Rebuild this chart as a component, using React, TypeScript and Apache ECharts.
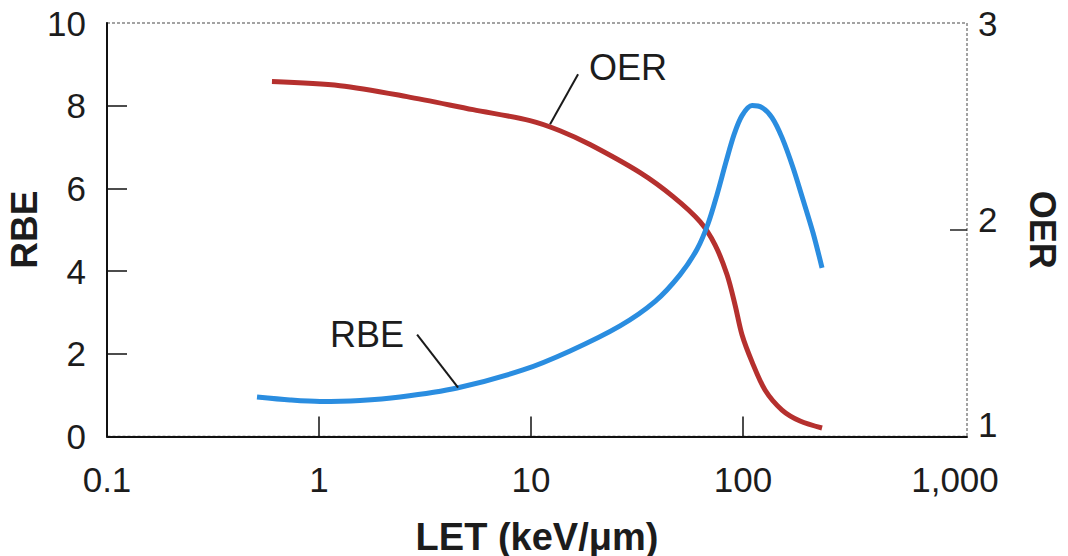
import React, { useEffect, useRef } from "react";
import * as echarts from "echarts";

// Oxygen enhancement ratio versus linear energy transfer (right axis)
const OER_LET = [0.6, 1.256, 2.6, 5.33, 9.89, 13.7, 18.98, 32.7, 46.8, 62.7, 73.8, 84.1, 91.7, 98.9, 110.3, 127, 152.8, 185.8, 235.9];
const OER_VALUES = [2.717, 2.697, 2.644, 2.581, 2.528, 2.479, 2.412, 2.276, 2.16, 2.039, 1.927, 1.782, 1.637, 1.492, 1.361, 1.225, 1.128, 1.075, 1.041];

// Relative biological effectiveness versus linear energy transfer (left axis)
const RBE_LET = [0.51, 0.73, 1.011, 1.561, 2.41, 4.48, 9.17, 15.28, 26.3, 38.5, 50.4, 60.7, 68.4, 75.4, 83.2, 90.7, 98.9, 110.3, 122.9, 137, 152.8, 172.2, 191.9, 213.9, 235.9];
const RBE_VALUES = [0.956, 0.884, 0.847, 0.872, 0.956, 1.174, 1.61, 2.07, 2.676, 3.269, 3.91, 4.528, 5.145, 5.847, 6.646, 7.3, 7.76, 8.002, 7.954, 7.712, 7.228, 6.501, 5.726, 4.927, 4.08];

const LET_LABELS = [0.1, 1, 10, 100, 1000];
const LET_TICKS = [1, 10, 100];
const RBE_TICKS = [2, 4, 6, 8];
const OER_TICKS = [2];

// Annotation anchors on the curves: [LET, value]
const OER_ANCHOR = [12.3, 2.51];
const RBE_ANCHOR = [4.53, 1.18];

const FONT = "'Liberation Sans', Arial, Helvetica, sans-serif";
const INK = "#1c1c1c";
const RED = "#b5302e";
const BLUE = "#2a8de0";

const fmtLet = (v: number) => {
  if (Math.abs(v - 1000) < 1e-6) return "1,000";
  if (Math.abs(v - 0.1) < 1e-9) return "0.1";
  return String(Math.round(v));
};

// Right-hand OER labels sit a little above their tick positions
const fmtOer = (v: number) => {
  if (v === 1) return "{lo|1}";
  if (v === 2) return "{mid|2}";
  return "{top|" + v + "}";
};

export default function App() {
  const ref = useRef<HTMLDivElement>(null);

  useEffect(() => {
    if (!ref.current) return;
    const chart = echarts.init(ref.current, undefined, { renderer: "svg" });

    const labelText = { fontFamily: FONT, fontSize: 35, color: INK };

    const option: any = {
      animation: false,
      backgroundColor: "#ffffff",
      grid: {
        left: 107,
        right: 101,
        top: 23,
        bottom: 119.5,
        containLabel: false,
        outerBoundsMode: "none",
        show: true,
        backgroundColor: "transparent",
        borderColor: "#a3a3a3",
        borderWidth: 2,
        borderType: [3, 2],
      },
      xAxis: {
        type: "log",
        logBase: 10,
        min: 0.1,
        max: 1139,
        name: "LET (keV/\u03bcm)",
        nameLocation: "middle",
        nameGap: 84,
        nameMoveOverlap: false,
        nameTextStyle: { fontFamily: FONT, fontSize: 38, lineHeight: 32, fontWeight: "bold", color: INK },
        axisLine: { show: true, lineStyle: { color: "#111", width: 2 } },
        axisTick: {
          show: true,
          inside: true,
          length: 20,
          customValues: LET_TICKS,
          lineStyle: { color: "#111", width: 1.5 },
        },
        axisLabel: {
          show: true,
          customValues: LET_LABELS,
          margin: 25,
          ...labelText,
          formatter: (v: number) => fmtLet(v),
        },
        splitLine: { show: false },
        minorTick: { show: false },
        minorSplitLine: { show: false },
      },
      yAxis: [
        {
          type: "value",
          min: 0,
          max: 10,
          interval: 2,
          position: "left",
          name: "RBE",
          nameLocation: "middle",
          nameRotate: 90,
          nameGap: 67,
          nameMoveOverlap: false,
          nameTextStyle: { fontFamily: FONT, fontSize: 37, lineHeight: 32, fontWeight: "bold", color: INK },
          axisLine: { show: true, lineStyle: { color: "#111", width: 2 } },
          axisTick: {
            show: true,
            inside: true,
            length: 20,
            customValues: RBE_TICKS,
            lineStyle: { color: "#111", width: 1.5 },
          },
          axisLabel: { margin: 21, ...labelText },
          splitLine: { show: false },
        },
        {
          type: "value",
          min: 1,
          max: 3,
          interval: 1,
          position: "right",
          name: "OER",
          nameLocation: "middle",
          nameRotate: -90,
          nameGap: 59,
          nameMoveOverlap: false,
          nameTextStyle: { fontFamily: FONT, fontSize: 36, lineHeight: 32, fontWeight: "bold", color: INK },
          axisLine: { show: false },
          axisTick: {
            show: true,
            inside: true,
            length: 17,
            customValues: OER_TICKS,
            lineStyle: { color: "#222", width: 1.5 },
          },
          axisLabel: {
            margin: 11,
            ...labelText,
            formatter: fmtOer,
            rich: {
              top: { ...labelText },
              mid: { ...labelText, padding: [0, 0, 20, 0] },
              lo: { ...labelText, padding: [0, 0, 24, 0] },
            },
          },
          splitLine: { show: false },
        },
      ],
      series: [
        {
          name: "OER",
          type: "line",
          yAxisIndex: 1,
          data: OER_LET.map((x, i) => [x, OER_VALUES[i]]),
          smooth: 0.3,
          showSymbol: false,
          symbol: "none",
          lineStyle: { color: RED, width: 5 },
          z: 3,
        },
        {
          name: "RBE",
          type: "line",
          yAxisIndex: 0,
          data: RBE_LET.map((x, i) => [x, RBE_VALUES[i]]),
          smooth: 0.3,
          showSymbol: false,
          symbol: "none",
          lineStyle: { color: BLUE, width: 5 },
          z: 4,
        },
      ],
    };

    chart.setOption(option);

    // Leader lines with labels, anchored to points on each curve
    const pOer = chart.convertToPixel({ seriesIndex: 0 }, OER_ANCHOR) as number[];
    const pRbe = chart.convertToPixel({ seriesIndex: 1 }, RBE_ANCHOR) as number[];
    const oerEnd = [pOer[0] + 28, pOer[1] - 50];
    const rbeEnd = [pRbe[0] - 41, pRbe[1] - 53];

    chart.setOption({
      graphic: [
        {
          type: "line",
          shape: { x1: pOer[0], y1: pOer[1], x2: oerEnd[0], y2: oerEnd[1] },
          style: { stroke: "#1a1a1a", lineWidth: 2 },
          z: 10,
        },
        {
          type: "text",
          x: oerEnd[0] + 11,
          y: oerEnd[1] - 7,
          style: {
            text: "OER",
            fontFamily: FONT,
            fontSize: 36,
            fill: INK,
            align: "left",
            verticalAlign: "middle",
          },
          z: 10,
        },
        {
          type: "line",
          shape: { x1: pRbe[0], y1: pRbe[1], x2: rbeEnd[0], y2: rbeEnd[1] },
          style: { stroke: "#1a1a1a", lineWidth: 2 },
          z: 10,
        },
        {
          type: "text",
          x: rbeEnd[0] - 13,
          y: rbeEnd[1],
          style: {
            text: "RBE",
            fontFamily: FONT,
            fontSize: 36,
            fill: INK,
            align: "right",
            verticalAlign: "middle",
          },
          z: 10,
        },
      ],
    });

    return () => {
      chart.dispose();
    };
  }, []);

  return (
    <div
      ref={ref}
      style={{ position: "fixed", left: 0, top: 0, width: 1068, height: 556, background: "#fff" }}
    />
  );
}
